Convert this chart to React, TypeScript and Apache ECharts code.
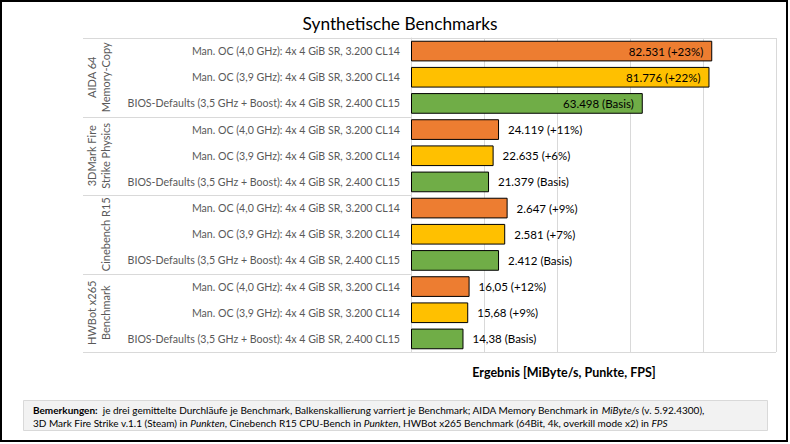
import React, { useEffect, useRef } from "react";
import * as echarts from "echarts";

// ---- data ----
const benchmarks = ["AIDA 64\nMemory-Copy", "3DMark Fire\nStrike Physics", "Cinebench R15", "HWBot x265\nBenchmark"];
const configs = [
  "Man. OC (4,0 GHz): 4x 4 GiB SR, 3.200 CL14",
  "Man. OC (3,9 GHz): 4x 4 GiB SR, 3.200 CL14",
  "BIOS-Defaults (3,5 GHz + Boost): 4x 4 GiB SR, 2.400 CL15",
];
const aida = [82531, 81776, 63498];
const fireStrike = [24119, 22635, 21379];
const cinebench = [2647, 2581, 2412];
const hwbot = [16.05, 15.68, 14.38];
const deltas = [
  ["+23%", "+22%", "Basis"],
  ["+11%", "+6%", "Basis"],
  ["+9%", "+7%", "Basis"],
  ["+12%", "+9%", "Basis"],
];
const decimals = [0, 0, 0, 2];
const barScale = [1, 1, 10, 1000]; // bar scaling varies per benchmark
const insideLabel = [true, false, false, false];
const colors = ["#ED7D31", "#FFC000", "#70AD47"];
const xTicks = [0, 20000, 40000, 60000, 80000, 100000];

const FONT = "Lato, 'Liberation Sans', sans-serif";

function fmt(v: number, dec: number): string {
  if (dec > 0) return v.toFixed(dec).replace(".", ",");
  const s = Math.round(v).toString();
  return s.replace(/\B(?=(\d{3})+(?!\d))/g, ".");
}

export default function App() {
  const ref = useRef<HTMLDivElement>(null);
  useEffect(() => {
    if (!ref.current) return;
    const chart = echarts.init(ref.current, undefined, { renderer: "svg" });
    const groups = [aida, fireStrike, cinebench, hwbot];
    const cats: string[] = [];
    const labels: string[] = [];
    const data: any[] = [];
    groups.forEach((vals, g) => {
      vals.forEach((v, i) => {
        const idx = cats.length;
        cats.push(String(idx));
        labels.push(configs[i]);
        data.push({
          value: v * barScale[g],
          itemStyle: { color: colors[i] },
          label: {
            position: insideLabel[g] ? "insideRight" : "right",
            distance: 9,
            formatter: `${fmt(v, decimals[g])} (${deltas[g][i]})`,
          },
        });
      });
    });

    const W = 790, H = 444;
    const gridLeft = 411, gridRight = 14, gridTop = 38, gridBottom = 92;
    const plotH = H - gridTop - gridBottom;
    const rowH = plotH / cats.length;
    const sepLeft = 83;
    const graphics: any[] = [];
    for (let k = 0; k <= benchmarks.length; k++) {
      const y = Math.round(gridTop + k * 3 * rowH) + 0.5;
      const x2 = k === 0 || k === benchmarks.length ? W - gridRight : gridLeft;
      graphics.push({
        type: "line",
        shape: { x1: sepLeft, y1: y, x2, y2: y },
        style: { stroke: "#d9d9d9", lineWidth: 1 },
        z: 0,
      });
    }
    benchmarks.forEach((b, g) => {
      graphics.push({
        type: "text",
        x: 112,
        y: gridTop + (g * 3 + 1.5) * rowH,
        rotation: Math.PI / 2,
        style: {
          text: b,
          align: "center",
          verticalAlign: "bottom",
          fontSize: 11,
          lineHeight: 14,
          fill: "#595959",
          fontFamily: FONT,
        },
      });
    });
    graphics.push({
      type: "text",
      x: 564,
      y: 372,
      style: {
        text: "Ergebnis [MiByte/s, Punkte, FPS]",
        align: "center",
        verticalAlign: "middle",
        fontSize: 12.5,
        fontWeight: "bold",
        fill: "#000",
        fontFamily: FONT,
      },
    });
    graphics.push({
      type: "rect",
      shape: { x: 23.5, y: 400.5, width: 744, height: 30 },
      style: { fill: "#f2f2f2", stroke: "#d9d9d9", lineWidth: 1 },
    });
    graphics.push({
      type: "text",
      x: 33,
      y: 416,
      style: {
        text:
          "{b|Bemerkungen:}  je drei gemittelte Durchläufe je Benchmark, Balkenskallierung varriert je Benchmark; AIDA Memory Benchmark in {i|MiByte/s} (v. 5.92.4300),\n" +
          "3D Mark Fire Strike v.1.1 (Steam) in {i|Punkten}, Cinebench R15 CPU-Bench in {i|Punkten}, HWBot x265 Benchmark (64Bit, 4k, overkill mode x2) in {i|FPS}",
        align: "left",
        verticalAlign: "middle",
        fontSize: 10,
        lineHeight: 13,
        fill: "#000",
        fontFamily: FONT,
        rich: {
          b: { fontWeight: "bold", fontSize: 10, fontFamily: FONT, fill: "#000" },
          i: { fontStyle: "italic", fontSize: 10, fontFamily: FONT, fill: "#000" },
        },
      },
    });
    graphics.push({
      type: "rect",
      shape: { x: 1, y: 1, width: 786, height: 440 },
      style: { fill: "none", stroke: "#000", lineWidth: 2 },
    });

    chart.setOption({
      animation: false,
      backgroundColor: "#fff",
      title: {
        text: "Synthetische Benchmarks",
        left: 395,
        top: 10,
        textAlign: "center",
        textStyle: { fontSize: 17.3, fontWeight: "normal", color: "#000", fontFamily: FONT },
      },
      grid: { left: gridLeft, right: gridRight, top: gridTop, bottom: gridBottom },
      xAxis: {
        type: "value",
        min: xTicks[0],
        max: xTicks[xTicks.length - 1],
        interval: xTicks[1] - xTicks[0],
        axisLabel: { show: false },
        axisLine: { show: false },
        axisTick: { show: false },
        splitLine: { lineStyle: { color: "#d9d9d9", width: 1 } },
      },
      yAxis: {
        type: "category",
        inverse: true,
        data: cats,
        axisLine: { show: true, lineStyle: { color: "#d9d9d9" } },
        axisTick: { show: false },
        axisLabel: {
          margin: 11,
          fontSize: 10.6,
          color: "#595959",
          fontFamily: FONT,
          formatter: (_v: string, i: number) => labels[i],
        },
      },
      series: [
        {
          type: "bar",
          data,
          barCategoryGap: "21%",
          itemStyle: { borderColor: "#000", borderWidth: 1 },
          label: {
            show: true,
            fontSize: 11.5,
            color: "#000",
            fontFamily: FONT,
          },
        },
      ],
      graphic: graphics,
    });
    return () => chart.dispose();
  }, []);
  return (
    <div
      ref={ref}
      style={{ position: "fixed", left: 0, top: 0, width: 790, height: 444, background: "#fff" }}
    />
  );
}
